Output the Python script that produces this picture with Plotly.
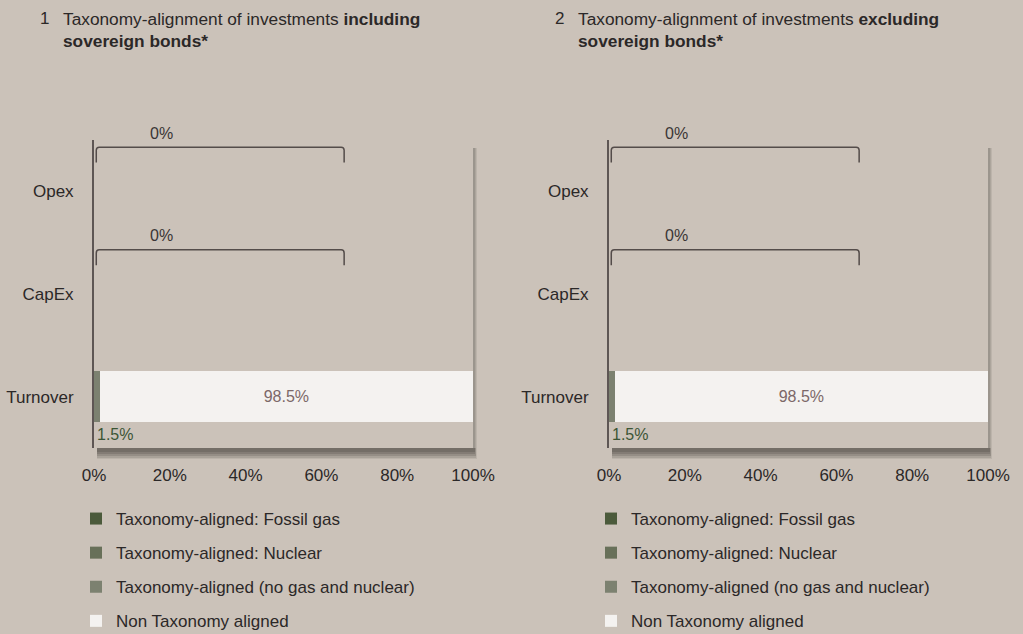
import plotly.graph_objects as go

# ---------------- data ----------------
categories = ["Turnover", "CapEx", "Opex"]
series_names = [
    "Taxonomy-aligned: Fossil gas",
    "Taxonomy-aligned: Nuclear",
    "Taxonomy-aligned (no gas and nuclear)",
    "Non Taxonomy aligned",
]
# panel 1: including sovereign bonds
incl_fossil = [0.0, None, None]
incl_nuclear = [0.0, None, None]
incl_aligned = [1.5, None, None]
incl_non = [98.5, None, None]
incl_total_aligned = [1.5, 0, 0]
# panel 2: excluding sovereign bonds
excl_fossil = [0.0, None, None]
excl_nuclear = [0.0, None, None]
excl_aligned = [1.5, None, None]
excl_non = [98.5, None, None]
excl_total_aligned = [1.5, 0, 0]

x_ticks = [0, 20, 40, 60, 80, 100]
x_ticklabels = ["0%", "20%", "40%", "60%", "80%", "100%"]

panel_titles = [
    ("1", "Taxonomy-alignment of investments <b>including</b><br><b>sovereign bonds*</b>"),
    ("2", "Taxonomy-alignment of investments <b>excluding</b><br><b>sovereign bonds*</b>"),
]

# ---------------- style ----------------
BG = "#CBC2B9"
colors = ["#4B5A3B", "#687059", "#7C8170", "#F4F2F0"]
TXT = "#2B2828"
FONT = "Liberation Sans, Arial, sans-serif"
W, H = 1023, 634

def px_x(p):
    return p / W

def px_y(p):
    return 1 - p / H

# plot boxes in pixels (left, right, top, bottom)
boxes = [(94, 473, 140, 448), (609, 988, 140, 448)]

fig = go.Figure()

panels = [
    (incl_fossil, incl_nuclear, incl_aligned, incl_non, incl_total_aligned),
    (excl_fossil, excl_nuclear, excl_aligned, excl_non, excl_total_aligned),
]

ypos = list(range(len(categories)))

for pi, (fos, nuc, ali, non, tot) in enumerate(panels):
    xa = "x" if pi == 0 else "x2"
    ya = "y" if pi == 0 else "y2"
    leg = "legend" if pi == 0 else "legend2"
    for si, (name, vals) in enumerate(zip(series_names, [fos, nuc, ali, non])):
        is_non = si == 3
        fig.add_trace(go.Bar(
            y=ypos, x=vals, name=name, orientation="h",
            marker=dict(color=colors[si], line=dict(width=0)),
            width=0.5,
            xaxis=xa, yaxis=ya, legend=leg, legendgroup=f"g{pi}{si}",
            text=[(f"{v}%" if (v is not None and is_non) else "") for v in vals],
            textposition="inside" if is_non else "none",
            insidetextanchor="middle",
            textfont=dict(color="#7C6868", size=16, family=FONT),
            hoverinfo="x+name",
        ))

# ---------------- layout ----------------
layout = dict(
    width=W, height=H,
    paper_bgcolor=BG, plot_bgcolor="rgba(0,0,0,0)",
    margin=dict(l=0, r=0, t=0, b=0, pad=0, autoexpand=False),
    barmode="stack",
    bargap=0.5,
    font=dict(family=FONT, color=TXT, size=17),
    showlegend=True,
)
for pi, (L, R, T, B) in enumerate(boxes):
    sfx = "" if pi == 0 else "2"
    layout["xaxis" + sfx] = dict(
        domain=[px_x(L), px_x(R)], range=[0, 100], anchor="y" + sfx,
        tickvals=x_ticks, ticktext=x_ticklabels, showgrid=False, zeroline=False,
        showline=False, ticks="", tickfont=dict(size=17, color=TXT),
        ticklabelstandoff=15, fixedrange=True, automargin=False,
    )
    layout["yaxis" + sfx] = dict(
        domain=[px_y(B), px_y(T)], range=[-0.5, 2.5], anchor="x" + sfx,
        tickvals=ypos, ticktext=categories, showgrid=False, zeroline=False,
        showline=True, linecolor="#5E5654", linewidth=2, ticks="",
        tickfont=dict(size=17, color=TXT), ticklabelstandoff=15, fixedrange=True,
        automargin=False,
    )

legend_common = dict(
    bgcolor="rgba(0,0,0,0)", font=dict(size=17, color=TXT, family=FONT),
    traceorder="grouped", tracegroupgap=9, xanchor="left", yanchor="top",
    itemclick=False, itemdoubleclick=False,
)
layout["legend"] = dict(legend_common, x=px_x(76), y=px_y(501))
layout["legend2"] = dict(legend_common, x=px_x(591), y=px_y(501))

shapes = []
annotations = []
for pi, (L, R, T, B) in enumerate(boxes):
    # soft drop shadow: right strip and bottom band
    for (w, op) in [(4, 0.10), (3, 0.12), (2, 0.14)]:
        shapes.append(dict(type="rect", xref="paper", yref="paper", layer="below",
                           x0=px_x(R), x1=px_x(R + w), y0=px_y(B), y1=px_y(T + 8),
                           line=dict(width=0), fillcolor=f"rgba(60,54,50,{op})"))
    for (h, dx, op) in [(11, 4, 0.10), (10, 3, 0.14), (8, 3, 0.18), (6, 2, 0.2), (4, 2, 0.2)]:
        shapes.append(dict(type="rect", xref="paper", yref="paper", layer="below",
                           x0=px_x(L + 3), x1=px_x(R + dx), y0=px_y(B + h), y1=px_y(B),
                           line=dict(width=0), fillcolor=f"rgba(60,54,50,{op})"))

    num, title = panel_titles[pi]
    annotations.append(dict(xref="paper", yref="paper", x=px_x(L - 56), y=px_y(7),
                            xanchor="left", yanchor="top", text=num, showarrow=False,
                            font=dict(size=17, color=TXT)))
    annotations.append(dict(xref="paper", yref="paper", x=px_x(L - 33), y=px_y(7),
                            xanchor="left", yanchor="top", text=title, showarrow=False,
                            align="left", font=dict(size=17.3, color=TXT)))

    xa = "x" if pi == 0 else "x2"
    ya = "y" if pi == 0 else "y2"
    tot = panels[pi][4]
    ali = panels[pi][2]
    for ci, cat in enumerate(categories):
        if ali[ci] is None:
            # bracket with label for empty categories
            x0, x1 = 0.6, 66.0
            yt, yb = ci + 0.43, ci + 0.28
            rx, ry = 0.8, 0.03
            path = (f"M {x0},{yb} L {x0},{yt - ry} Q {x0},{yt} {x0 + rx},{yt} "
                    f"L {x1 - rx},{yt} Q {x1},{yt} {x1},{yt - ry} L {x1},{yb}")
            shapes.append(dict(type="path", xref=xa, yref=ya, path=path,
                               line=dict(color="#544C4A", width=1.5)))
            annotations.append(dict(xref=xa, yref=ya, x=17.7, y=yt, yshift=14,
                                    text=f"{tot[ci]}%", showarrow=False,
                                    font=dict(size=16, color="#3A3535")))
        else:
            annotations.append(dict(xref=xa, yref=ya, x=0, y=ci, yshift=-38, xshift=1,
                                    xanchor="left", text=f"{tot[ci]}%", showarrow=False,
                                    font=dict(size=16, color="#3B5535")))

layout["shapes"] = shapes
layout["annotations"] = annotations
fig.update_layout(**layout)
fig.write_html("out.html", config={"displayModeBar": False},
               post_script="document.body.style.margin='0';document.body.style.overflow='hidden';")
